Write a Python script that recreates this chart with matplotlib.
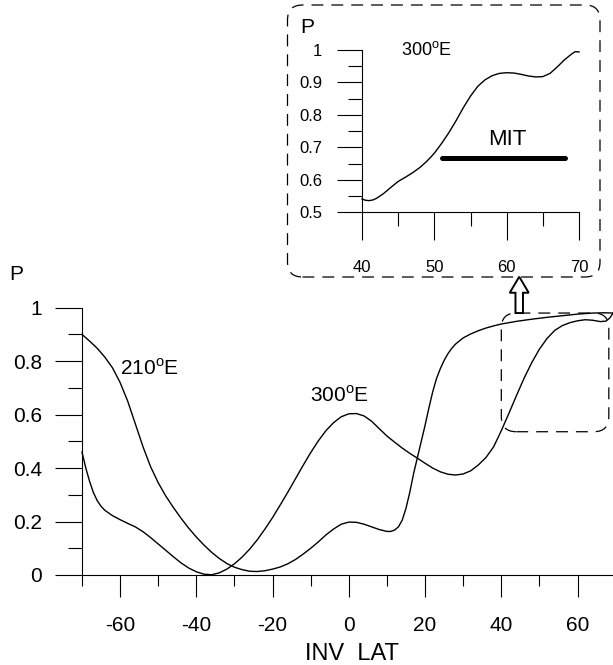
import matplotlib
matplotlib.use("Agg")
import matplotlib.pyplot as plt
from matplotlib.patches import FancyBboxPatch, FancyArrow

plt.rcParams["font.family"] = ["Liberation Sans", "DejaVu Sans"]
plt.rcParams["mathtext.fontset"] = "custom"
plt.rcParams["mathtext.rm"] = "Liberation Sans"
plt.rcParams["axes.unicode_minus"] = False

# curve starting at 0.9 (210 E)
lat_210 = [-70, -68, -66, -64, -62, -60, -58, -56, -54, -52, -50, -48, -46, -44, -42, -40,
           -38, -36, -34, -32, -30, -28, -26, -24, -22, -20, -18, -16, -14, -12, -10, -8,
           -6, -4, -2, 0, 2, 4, 6, 8, 10, 11, 12, 13, 14, 15, 16, 17, 18, 19, 20, 21, 22,
           23, 24, 25, 26, 27, 28, 30, 32, 34, 36, 38, 40, 44, 48, 52, 56, 60, 64, 67, 69.3]
p_210 = [0.900, 0.875, 0.848, 0.815, 0.775, 0.720, 0.650, 0.565, 0.480, 0.405, 0.345,
         0.295, 0.252, 0.212, 0.175, 0.142, 0.112, 0.085, 0.062, 0.043, 0.029, 0.020,
         0.014, 0.013, 0.016, 0.022, 0.030, 0.042, 0.058, 0.078, 0.100, 0.124, 0.150,
         0.172, 0.190, 0.198, 0.197, 0.190, 0.180, 0.170, 0.163, 0.163, 0.168, 0.180,
         0.205, 0.250, 0.310, 0.380, 0.440, 0.500, 0.560, 0.625, 0.685, 0.735, 0.772,
         0.803, 0.828, 0.848, 0.864, 0.887, 0.902, 0.914, 0.924, 0.932, 0.939, 0.949,
         0.957, 0.964, 0.970, 0.976, 0.980, 0.981, 0.980]

# curve starting at 0.46 (300 E)
lat_300 = [-70, -69, -68, -67, -66, -65, -64, -62, -60, -58, -56, -54, -52, -50, -48, -46,
           -44, -42, -40, -38, -36, -34, -32, -30, -28, -26, -24, -22, -20, -18, -16, -14,
           -12, -10, -8, -6, -4, -2, 0, 2, 4, 6, 8, 10, 12, 14, 16, 18, 20, 22, 24, 26, 28,
           30, 32, 34, 36, 38, 40, 42, 44, 46, 48, 50, 52, 54, 56, 58, 60, 62, 64, 66, 67.5,
           68.5, 69.3]
p_300 = [0.460, 0.400, 0.350, 0.308, 0.278, 0.257, 0.242, 0.222, 0.207, 0.193, 0.180,
         0.162, 0.140, 0.116, 0.092, 0.068, 0.045, 0.026, 0.012, 0.003, 0.001, 0.008,
         0.022, 0.042, 0.067, 0.097, 0.132, 0.172, 0.215, 0.262, 0.310, 0.360, 0.410,
         0.458, 0.502, 0.540, 0.570, 0.592, 0.603, 0.604, 0.595, 0.575, 0.547, 0.520,
         0.497, 0.475, 0.455, 0.437, 0.418, 0.400, 0.386, 0.377, 0.374, 0.378, 0.390,
         0.412, 0.440, 0.480, 0.540, 0.605, 0.672, 0.737, 0.795, 0.845, 0.885, 0.915,
         0.933, 0.944, 0.951, 0.955, 0.953, 0.948, 0.950, 0.962, 0.980]

# inset: 300 E between 40 and 70
lat_in = [40, 40.5, 41, 41.5, 42, 43, 44, 45, 46, 47, 48, 49, 50, 51, 52, 53, 54, 55, 56,
          57, 58, 59, 60, 61, 62, 63, 64, 65, 66, 67, 68, 69, 69.5, 70]
p_in = [0.541, 0.537, 0.536, 0.538, 0.543, 0.558, 0.577, 0.595, 0.608, 0.622, 0.638,
        0.658, 0.682, 0.712, 0.745, 0.782, 0.822, 0.858, 0.888, 0.908, 0.921, 0.928,
        0.930, 0.929, 0.925, 0.920, 0.917, 0.918, 0.928, 0.948, 0.970, 0.988, 0.995, 0.994]

mit_range = [51.1, 68.1]
mit_level = 0.666

W, H = 613, 665
fig = plt.figure(figsize=(W / 100, H / 100), dpi=100)


def px_axes(x0, x1, ytop, ybot):
    return fig.add_axes([x0 / W, (H - ybot) / H, (x1 - x0) / W, (ybot - ytop) / H])


def style(ax, xmaj_len, xmin_len, ymaj_len, ymin_len, size, xpad, ypad):
    for s in ["top", "right"]:
        ax.spines[s].set_visible(False)
    for s in ["left", "bottom"]:
        ax.spines[s].set_linewidth(0.8)
    ax.tick_params(axis="x", which="major", length=xmaj_len, width=0.8, labelsize=size, pad=xpad)
    ax.tick_params(axis="x", which="minor", length=xmin_len, width=0.8)
    ax.tick_params(axis="y", which="major", length=ymaj_len, width=0.8, labelsize=size, pad=ypad)
    ax.tick_params(axis="y", which="minor", length=ymin_len, width=0.8)
    ax.patch.set_alpha(0)


# main panel
ax = px_axes(82, 613, 307.7, 575)
ax.plot(lat_210, p_210, color="black", lw=1.0, clip_on=False)
ax.plot(lat_300, p_300, color="black", lw=1.0, clip_on=False)
ax.set_xlim(-70, 69.3)
ax.set_ylim(0, 1)
ax.set_xticks([-60, -40, -20, 0, 20, 40, 60])
ax.set_xticks([-70, -50, -30, -10, 10, 30, 50], minor=True)
ax.set_yticks([0, 0.2, 0.4, 0.6, 0.8, 1])
ax.set_yticklabels(["0", "0.2", "0.4", "0.6", "0.8", "1"])
ax.set_yticks([0.1, 0.3, 0.5, 0.7, 0.9], minor=True)
style(ax, 15.6, 7.9, 19.4, 9.8, 15, 14, 9.5)
ax.text(-60, 0.748, "210$^{\\mathrm{o}}$E", fontsize=15, ha="left", va="baseline")
ax.text(-10.2, 0.648, "300$^{\\mathrm{o}}$E", fontsize=15, ha="left", va="baseline")

fig.text(9 / W, (H - 280) / H, "P", fontsize=15, ha="left", va="baseline")
fig.text(352 / W, (H - 660) / H, "INV  LAT", fontsize=17, ha="center", va="baseline")

# inset panel
axi = px_axes(362, 579, 50, 212.3)
axi.plot(lat_in, p_in, color="black", lw=1.0, clip_on=False)
axi.plot(mit_range, [mit_level, mit_level], color="black", lw=3.6, solid_capstyle="round")
axi.set_xlim(40, 70)
axi.set_ylim(0.5, 1.0)
axi.set_xticks([40, 50, 60, 70])
axi.set_xticks([45, 55, 65], minor=True)
axi.set_yticks([0.5, 0.6, 0.7, 0.8, 0.9, 1.0])
axi.set_yticklabels(["0.5", "0.6", "0.7", "0.8", "0.9", "1"])
axi.set_yticks([0.55, 0.65, 0.75, 0.85, 0.95], minor=True)
style(axi, 20, 10.4, 18, 10, 12, 14, 10.5)
axi.text(45.35, 0.984, "300$^{\\mathrm{o}}$E", fontsize=13, ha="left", va="baseline")
axi.text(57.4, 0.707, "MIT", fontsize=16, ha="left", va="baseline")
fig.text(300 / W, (H - 33) / H, "P", fontsize=15, ha="left", va="baseline")

# dashed frames (in inches from bottom-left)
tr = fig.dpi_scale_trans
dash = (0, (9.5, 6.4))
inset_box = FancyBboxPatch((2.875, (H - 277) / 100), 6.0 - 2.875, (277 - 5) / 100,
                           boxstyle="round,pad=0,rounding_size=0.15", transform=tr,
                           fill=False, lw=0.9, ls=dash, ec="black")
fig.patches.append(inset_box)

fig.canvas.draw()
(bx0, by0), (bx1, by1) = ax.transData.transform([(40, 0.536), (68.2, 0.98)])
zoom_box = FancyBboxPatch((bx0 / 100, by0 / 100), (bx1 - bx0) / 100, (by1 - by0) / 100,
                          boxstyle="round,pad=0,rounding_size=0.15", transform=tr,
                          fill=False, lw=0.9, ls=dash, ec="black")
fig.patches.append(zoom_box)

ax_x, ax_y = ax.transData.transform((44.7, 0.98))
arrow = FancyArrow(ax_x / 100, ax_y / 100, 0, 0.363, width=0.075, head_width=0.19,
                   head_length=0.16, length_includes_head=True, transform=tr,
                   fc="white", ec="black", lw=1.4)
fig.patches.append(arrow)

fig.savefig("out.png", dpi=100)
